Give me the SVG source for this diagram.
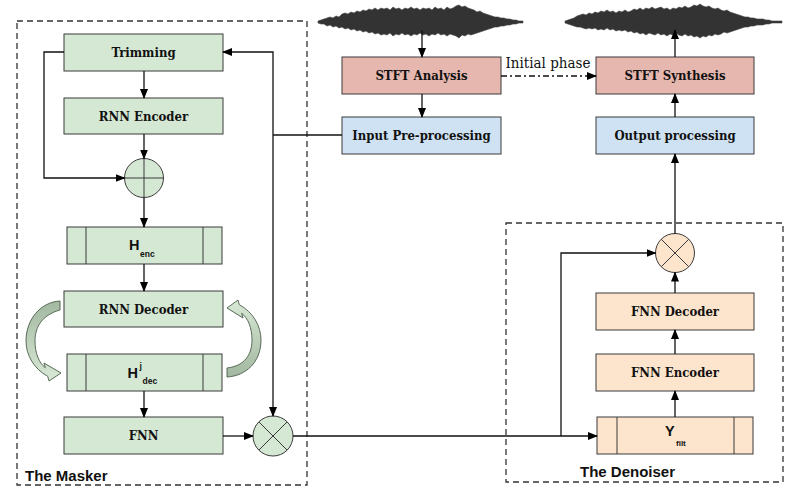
<svg xmlns="http://www.w3.org/2000/svg" width="806" height="499" viewBox="0 0 806 499">
<defs>
<marker id="ah" markerUnits="userSpaceOnUse" markerWidth="10" markerHeight="8" refX="9" refY="4" orient="auto">
<path d="M0,0 L10,4 L0,8 z" fill="#000"/>
</marker>
<linearGradient id="gl" x1="0" y1="0" x2="0" y2="1">
<stop offset="0" stop-color="#a3b8a0"/>
<stop offset="1" stop-color="#d8e9d5"/>
</linearGradient>
<linearGradient id="gr" x1="0" y1="1" x2="0" y2="0">
<stop offset="0" stop-color="#a3b8a0"/>
<stop offset="1" stop-color="#d8e9d5"/>
</linearGradient>
<style>
.box{stroke:#3a3a3a;stroke-width:1}
.g{fill:#d5e8d4}
.p{fill:#e6b7ae}
.b{fill:#cfe2f3}
.o{fill:#fde5cd}
.t{font-family:"DejaVu Serif Condensed","DejaVu Serif","Liberation Serif",serif;font-stretch:condensed;font-weight:bold;font-size:13px;fill:#111;text-anchor:middle}
.s{font-family:"Liberation Sans",Arial,sans-serif;font-weight:bold;fill:#111}
.c{stroke:#111;stroke-width:1.3;fill:none}
.dash{fill:none;stroke:#333;stroke-width:1.3;stroke-dasharray:6,4}
.wave{fill:#333;stroke:#444;stroke-width:0.6}
</style>
</defs>

<g id="masker-frame">
<rect class="dash" x="17" y="21" width="290" height="464"/>
<text class="s" x="25" y="481" font-size="15">The Masker</text>
</g>
<g id="denoiser-frame">
<rect class="dash" x="506" y="223" width="277" height="259"/>
<text class="s" x="580" y="477" font-size="15">The Denoiser</text>
</g>

<g id="wave-in">
<path class="wave" d="M318,21 L321,20 L324,19 L327,18 L330,17 L333,18 L336,16 L339,17 L342,14 L345,13 L348,14 L351,12 L354,13 L357,11 L360,12 L363,10 L366,11 L369,9 L372,10 L375,8 L378,10 L381,8 L384,9 L387,8 L390,10 L393,7 L396,9 L399,8 L402,10 L405,8 L408,9 L411,7 L414,9 L417,8 L420,10 L423,8 L426,9 L429,8 L432,10 L435,7 L438,9 L441,8 L444,10 L447,7 L450,9 L453,8 L456,6 L459,5 L462,7 L465,6 L468,8 L471,9 L474,10 L477,12 L480,11 L483,13 L486,14 L489,15 L492,16 L495,17 L498,17 L501,18 L504,18 L507,19 L510,19 L513,20 L516,20 L519,21 L523,21 L523,23 L519,23 L516,24 L513,24 L510,25 L507,25 L504,26 L501,26 L498,27 L495,27 L492,28 L489,29 L486,30 L483,31 L480,32 L477,33 L474,34 L471,35 L468,34 L465,36 L462,35 L459,38 L456,36 L453,35 L450,34 L447,36 L444,34 L441,35 L438,33 L435,35 L432,34 L429,36 L426,34 L423,35 L420,33 L417,35 L414,34 L411,36 L408,34 L405,35 L402,33 L399,35 L396,34 L393,36 L390,33 L387,35 L384,34 L381,35 L378,33 L375,34 L372,32 L369,33 L366,31 L363,32 L360,30 L357,31 L354,29 L351,30 L348,28 L345,29 L342,27 L339,28 L336,26 L333,27 L330,25 L327,26 L324,24 L321,24 L318,23 Z"/>
</g>
<g id="wave-out">
<path class="wave" d="M565,21 L568,20 L571,19 L574,18 L577,16 L580,15 L583,14 L586,15 L589,13 L592,14 L595,12 L598,13 L601,11 L604,12 L607,10 L610,12 L613,11 L616,13 L619,11 L622,12 L625,10 L628,12 L631,11 L634,9 L637,10 L640,8 L643,10 L646,8 L649,9 L652,7 L655,9 L658,8 L661,7 L664,9 L667,8 L670,10 L673,8 L676,9 L679,7 L682,8 L685,6 L688,8 L691,7 L694,5 L697,6 L700,4 L703,6 L706,7 L709,6 L712,8 L715,9 L718,8 L721,10 L724,11 L727,10 L730,12 L733,13 L736,14 L739,15 L742,16 L745,17 L748,17 L751,18 L754,18 L757,19 L760,19 L763,19 L766,20 L769,20 L772,21 L775,21 L778,21 L782,21 L782,23 L778,23 L775,23 L772,23 L769,24 L766,24 L763,25 L760,25 L757,25 L754,26 L751,26 L748,27 L745,27 L742,28 L739,29 L736,30 L733,31 L730,32 L727,33 L724,32 L721,34 L718,35 L715,34 L712,36 L709,35 L706,37 L703,36 L700,38 L697,36 L694,37 L691,35 L688,36 L685,34 L682,36 L679,35 L676,33 L673,35 L670,34 L667,36 L664,34 L661,35 L658,33 L655,35 L652,34 L649,33 L646,35 L643,33 L640,34 L637,32 L634,33 L631,31 L628,32 L625,30 L622,31 L619,30 L616,31 L613,29 L610,30 L607,28 L604,30 L601,29 L598,30 L595,28 L592,29 L589,28 L586,29 L583,28 L580,27 L577,27 L574,26 L571,25 L568,24 L565,23 Z"/>
</g>

<g id="stft-analysis"><rect class="box p" x="342" y="57" width="159" height="37"/><text class="t" x="421.5" y="80">STFT Analysis</text></g>
<g id="input-pre"><rect class="box b" x="342" y="117" width="159" height="37"/><text class="t" x="421.5" y="140">Input Pre-processing</text></g>
<g id="stft-synthesis"><rect class="box p" x="596" y="57" width="158" height="37"/><text class="t" x="675" y="80">STFT Synthesis</text></g>
<g id="output-proc"><rect class="box b" x="596" y="117" width="158" height="37"/><text class="t" x="675" y="140">Output processing</text></g>

<g id="trimming"><rect class="box g" x="64" y="34" width="159" height="37"/><text class="t" x="143.5" y="57">Trimming</text></g>
<g id="rnn-encoder"><rect class="box g" x="64" y="98" width="159" height="36"/><text class="t" x="143.5" y="121">RNN Encoder</text></g>
<g id="plus"><circle class="box g" cx="144" cy="178" r="19.5"/><path d="M124.5,178 H163.5 M144,158.5 V197.5" stroke="#3a3a3a" stroke-width="1"/></g>
<g id="h-enc"><rect class="box g" x="67" y="227" width="155" height="37"/><path d="M86,227 V264 M203,227 V264" stroke="#3a3a3a" stroke-width="1"/><text class="s" x="129" y="250" font-size="14.5">H</text><text class="s" x="140" y="257" font-size="8.5">enc</text></g>
<g id="rnn-decoder"><rect class="box g" x="64" y="291" width="159" height="36"/><text class="t" x="143.5" y="314">RNN Decoder</text></g>
<g id="h-dec"><rect class="box g" x="67" y="354" width="155" height="37"/><path d="M86,354 V391 M203,354 V391" stroke="#3a3a3a" stroke-width="1"/><text class="s" x="127.5" y="378" font-size="14.5">H</text><text class="s" x="139.5" y="369" font-size="8.5">j</text><text class="s" x="142.5" y="384" font-size="8.5">dec</text></g>
<g id="fnn"><rect class="box g" x="64" y="417" width="159" height="37"/><text class="t" x="143.5" y="440">FNN</text></g>
<g id="mask-mult"><circle class="box g" cx="273" cy="436" r="20"/><path d="M258.9,421.9 L287.1,450.1 M287.1,421.9 L258.9,450.1" stroke="#3a3a3a" stroke-width="1"/></g>

<g id="loop-left"><path d="M60,310 C42,315 35,327 35,341 C35,353 39,363 45.3,367.7 L44,363 L61,373 L49,381 L47.7,376.3 C34,369 26,355 26,341 C26,319 41,302 60,301 Z" fill="url(#gl)" stroke="#4a5e49" stroke-width="0.9"/></g>
<g id="loop-right"><path d="M227,368 C245,366 252,354 252,340 C252,328 248,318 241.7,313.3 L243,318 L227,308 L238,300 L239.3,304.7 C253,312 261,326 261,340 C261,362 246,376 227,377 Z" fill="url(#gr)" stroke="#4a5e49" stroke-width="0.9"/></g>

<g id="denoise-mult"><circle class="box o" cx="675" cy="253" r="19.5"/><path d="M661.2,239.2 L688.8,266.8 M688.8,239.2 L661.2,266.8" stroke="#3a3a3a" stroke-width="1"/></g>
<g id="fnn-decoder"><rect class="box o" x="596" y="293" width="158" height="37"/><text class="t" x="675" y="316">FNN Decoder</text></g>
<g id="fnn-encoder"><rect class="box o" x="596" y="354" width="158" height="37"/><text class="t" x="675" y="377">FNN Encoder</text></g>
<g id="y-filt"><rect class="box o" x="597" y="417" width="156" height="37"/><path d="M617,417 V454 M734,417 V454" stroke="#3a3a3a" stroke-width="1"/><text class="s" x="665" y="435.5" font-size="14.5">Y</text><text class="s" x="676" y="446" font-size="8">filt</text></g>

<g id="connectors">
<path class="c" d="M422,30 V57" marker-end="url(#ah)"/>
<path class="c" d="M422,94 V117" marker-end="url(#ah)"/>
<path class="c" d="M342,135 H273"/>
<path class="c" d="M273,135 V52 H223" marker-end="url(#ah)"/>
<path class="c" d="M273,135 V416" marker-end="url(#ah)"/>
<path class="c" d="M144,71 V98" marker-end="url(#ah)"/>
<path class="c" d="M144,134 V158.5" marker-end="url(#ah)"/>
<path class="c" d="M64,52 H44 V178 H124.5" marker-end="url(#ah)"/>
<path class="c" d="M144,197.5 V227" marker-end="url(#ah)"/>
<path class="c" d="M144,264 V291" marker-end="url(#ah)"/>
<path class="c" d="M144,391 V417" marker-end="url(#ah)"/>
<path class="c" d="M223,436 H253" marker-end="url(#ah)"/>
<path class="c" d="M293,436 H597" marker-end="url(#ah)"/>
<path class="c" d="M561,436 V253 H655.5" marker-end="url(#ah)"/>
<path class="c" d="M675,417 V391" marker-end="url(#ah)"/>
<path class="c" d="M675,354 V330" marker-end="url(#ah)"/>
<path class="c" d="M675,293 V272.5" marker-end="url(#ah)"/>
<path class="c" d="M675,233.5 V154" marker-end="url(#ah)"/>
<path class="c" d="M675,117 V94" marker-end="url(#ah)"/>
<path class="c" d="M675,57 V30" marker-end="url(#ah)"/>
<path class="c" d="M501,76 H596" stroke-dasharray="6,3,2,3" marker-end="url(#ah)"/>
<text x="548" y="68" text-anchor="middle" font-family="DejaVu Serif Condensed, DejaVu Serif, Liberation Serif, serif" font-stretch="condensed" font-size="15" fill="#111">Initial phase</text>
</g>
</svg>
